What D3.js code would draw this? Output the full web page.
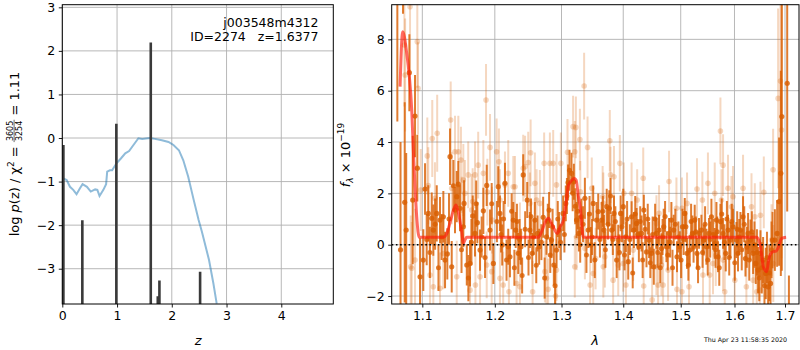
<!DOCTYPE html>
<html>
<head>
<meta charset="utf-8">
<script src="https://cdn.jsdelivr.net/npm/d3@7"></script>
<style>
body { margin: 0; background: #fff; }
svg { font-family: "DejaVu Sans", sans-serif; }
</style>
</head>
<body>
<script>
// ---- left panel: p(z) ----
const zGrid = [0.018,0.08,0.14,0.20,0.26,0.32,0.37,0.45,0.52,0.60,0.64,0.68,0.75,0.80,0.82,0.87,0.91,0.99,1.07,1.15,1.22,1.30,1.39,1.46,1.60,1.69,1.82,1.94,2.03,2.13,2.21,2.30,2.40,2.49,2.55,2.68,2.76,2.82];
const logPz = [-0.93,-0.965,-1.12,-1.19,-1.29,-1.16,-1.06,-1.12,-1.23,-1.18,-1.19,-1.33,-1.19,-1.06,-0.77,-0.74,-0.74,-0.58,-0.47,-0.35,-0.30,-0.16,-0.006,-0.02,0.0,-0.02,-0.05,-0.09,-0.16,-0.28,-0.51,-0.89,-1.42,-1.88,-2.15,-2.80,-3.34,-3.80];
const spikeZ = [0.02,0.366,0.987,1.616,1.744,1.774,2.517];
const spikeLogP = [-0.16,-1.89,0.33,2.19,-3.63,-3.27,-3.07];
const zTicks = [0,1,2,3,4];
const pzTicks = [-3,-2,-1,0,1,2,3];

// ---- right panel: spectrum ----
const lamDark = [1.0675,1.0716,1.0748,1.0770,1.0789,1.0830,1.0874,1.0904,1.0934,1.0970,1.1013,1.1036,1.1079,1.1125,1.1146,1.1192,1.1236,1.1281,1.1304,1.1335,1.1372,1.1395,1.1440,1.1464,1.1486,1.1509,1.1555,1.1565,1.1603,1.1648,1.1686,1.1718,1.1751,1.1789,1.1836,1.1884,1.1931,1.1979,
  1.2050,1.2074,1.2107,1.2147,1.2195,1.2220,1.2269,1.2304,1.2342,1.2382,1.2416,1.2476,1.2516,1.2551,1.2591,1.2632,1.2656,1.2717,1.2768,1.2808,1.2845,1.2881,1.2922,1.2963,1.3025,1.3067,1.3103,1.3157,1.3194,1.3237,1.3274,1.3316,1.3370,1.3423,1.3467,1.3504,1.3560,1.3586,
  1.3642,1.3680,1.3725,1.3768,1.3807,1.3845,1.3890,1.3916,1.3956,1.4000,1.4045,1.4084,1.4141,1.4180,1.4226,1.4265,1.4311,1.4350,1.4396,1.4441,1.4483,1.4523,1.4569,1.4615,1.4657,1.4697,1.4745,1.4791,1.4833,1.4874,1.4933,1.4983,1.5031,1.5073,1.5114,1.5163,1.5212,1.5254,1.5296,1.5333,
  1.5377,1.5420,1.5470,1.5518,1.5563,1.5625,1.5657,1.5687,1.5732,1.5782,1.5833,1.5876,1.5922,1.5972,1.6037,1.6068,1.6115,1.6165,1.6212,1.6263,1.6310,1.6362,1.6414,1.6460,1.6507,1.6559,1.6613,1.6659,1.6707,1.6747,1.6794,1.6840,1.6880,1.6915,1.6935,1.7045,1.7080];
const fluxDark = [9.8,-0.2,10.5,1.65,0.57,6.70,1.74,5.01,2.98,-1.25,-0.60,2.17,1.22,1.03,0.57,1.22,0.96,1.09,-0.60,-0.36,3.43,-0.86,1.35,1.87,2.36,1.42,0.70,1.61,-0.79,-0.73,1.12,0.44,0.86,-0.21,1.32,2.31,0.57,-0.73,
  2.26,1.22,-0.01,2.39,-0.08,-0.47,0.96,0.57,-0.34,-0.08,2.72,1.74,0.57,-0.34,0.96,0.44,-0.08,1.07,0.31,1.35,0.18,-0.79,-0.21,0.57,1.22,1.61,2.42,2.78,2.45,0.96,0.44,1.09,1.81,0.57,-0.01,1.61,0.96,1.29,
  0.96,0.57,1.48,1.42,0.57,1.22,-0.60,0.18,1.22,1.48,0.31,-0.66,1.09,0.57,0.83,-0.08,0.44,1.35,-0.28,0.18,-0.34,-0.86,0.44,0.57,-0.15,0.70,-0.08,0.44,0.96,0.57,-0.47,-0.08,0.70,1.22,-0.34,-0.21,0.44,0.96,-0.34,0.44,
  0.57,0.18,-0.08,0.44,1.09,0.05,0.96,-0.47,0.90,0.44,-0.34,0.57,0.18,0.70,0.18,-0.34,0.57,1.09,-0.54,0.44,0.18,-0.34,-0.73,-0.99,-0.34,-0.60,-1.12,-1.64,-1.51,0.18,0.18,0.44,1.68,2.78,4.99,6.29,-3.5];
const errDark = [5.0,4.2,1.5,3.9,3.0,1.5,2.5,1.6,1.3,1.5,1.2,1.0,1.1,1.0,1.0,1.1,0.9,1.0,1.1,1.0,1.1,1.0,0.9,1.0,0.9,0.9,0.8,0.9,0.8,0.9,0.8,0.9,0.8,0.8,0.9,0.8,0.8,0.8,
  0.8,0.7,0.8,0.8,0.7,0.8,0.7,0.7,0.8,0.7,0.8,0.7,0.7,0.8,0.7,0.7,0.7,0.8,0.7,0.7,0.7,0.8,0.7,0.7,0.7,0.7,0.7,0.8,0.7,0.7,0.7,0.7,0.8,0.7,0.7,0.7,0.7,0.7,
  0.7,0.6,0.7,0.7,0.6,0.7,0.7,0.6,0.7,0.7,0.6,0.7,0.6,0.7,0.6,0.6,0.7,0.6,0.6,0.7,0.6,0.7,0.6,0.6,0.6,0.7,0.6,0.6,0.7,0.6,0.6,0.6,0.7,0.6,0.6,0.6,0.7,0.6,0.6,0.6,
  0.6,0.6,0.7,0.6,0.7,0.6,0.7,0.6,0.7,0.6,0.7,0.6,0.7,0.7,0.7,0.7,0.7,0.8,0.7,0.8,0.8,0.8,0.8,0.9,0.9,0.9,1.0,1.0,1.1,1.1,1.2,1.3,2.5,4.0,6.0,5.0,2.3];

// more binned points, interleaved with the ones above
const lamDarkB = [1.1058,1.1100,1.1170,1.1215,1.1258,1.1358,1.1418,1.1530,1.1625,1.1668,1.1735,1.1812,1.1860,1.1955,
  1.2030,1.2090,1.2127,1.2170,1.2245,1.2285,1.2323,1.2362,1.2400,1.2445,1.2495,1.2533,1.2571,1.2612,1.2690,1.2740,1.2788,1.2826,1.2862,1.2900,
  1.2942,1.2985,1.3045,1.3085,1.3125,1.3175,1.3215,1.3255,1.3295,1.3340,1.3395,1.3445,1.3485,1.3530,1.3613,
  1.3661,1.3703,1.3746,1.3788,1.3826,1.3868,1.3936,1.3978,1.4022,1.4065,1.4112,1.4160,1.4203,1.4245,1.4288,1.4330,1.4373,1.4418,1.4462,1.4503,
  1.4546,1.4592,1.4636,1.4677,1.4721,1.4768,1.4812,1.4853,1.4903,1.4958,1.5007,1.5052,1.5094,1.5138,1.5188,1.5233,1.5275,1.5315,
  1.5398,1.5445,1.5494,1.5540,1.5594,1.5641,1.5672,1.5710,1.5757,1.5808,1.5855,1.5899,1.5947,1.6005,1.6052,1.6091,1.6140,1.6188,1.6238,1.6286,
  1.6336,1.6388,1.6437,1.6483,1.6533,1.6586,1.6636,1.6683,1.6727];
const fluxDarkB = [0.2,-0.3,0.8,-0.9,0.3,1.0,2.3,-0.2,-1.3,0.1,1.6,0.3,-0.5,1.6,
  0.9,0.4,1.0,-0.6,1.3,-0.9,0.9,0.2,-1.2,0.6,-0.5,1.1,0.3,-0.8,0.1,-1.3,0.9,-0.4,0.7,-1.6,
  1.0,0.1,0.4,1.9,2.9,2.0,1.5,1.3,0.0,0.8,-0.4,1.2,0.3,-0.6,0.2,
  1.3,-0.2,0.8,1.9,0.2,0.9,-0.3,0.7,-0.4,1.0,0.2,-1.1,1.2,0.4,0.9,-0.6,0.6,1.0,-0.7,0.4,
  1.0,-0.3,-0.9,0.3,1.1,-0.4,0.1,-0.9,0.8,0.3,-0.6,0.2,0.7,-0.8,0.9,-0.1,0.5,-0.9,
  -0.3,0.8,-0.6,0.2,0.4,-0.2,0.5,-0.9,1.2,0.1,1.0,-0.5,0.9,-0.7,0.6,0.3,-0.2,0.8,-0.1,-0.6,
  0.5,0.0,-0.3,-1.3,-0.9,-1.6,-0.5,-1.1,-0.2];
const errDarkB = [1.0,1.0,1.0,0.9,0.9,1.0,1.0,0.9,0.9,0.9,0.9,0.8,0.8,0.8,
  0.8,0.7,0.7,0.8,0.7,0.7,0.7,0.8,0.7,0.7,0.7,0.7,0.7,0.7,0.7,0.8,0.7,0.7,0.7,0.8,
  0.7,0.7,0.7,0.7,0.8,0.7,0.7,0.7,0.7,0.7,0.7,0.7,0.7,0.7,0.7,
  0.6,0.7,0.6,0.7,0.6,0.6,0.7,0.6,0.6,0.7,0.6,0.6,0.7,0.6,0.6,0.7,0.6,0.6,0.6,0.7,
  0.6,0.6,0.6,0.7,0.6,0.6,0.6,0.7,0.6,0.6,0.7,0.6,0.6,0.6,0.7,0.6,0.6,0.6,
  0.6,0.7,0.6,0.7,0.6,0.7,0.6,0.7,0.6,0.7,0.7,0.7,0.7,0.7,0.7,0.7,0.8,0.7,0.8,0.8,
  0.8,0.9,0.9,0.9,1.0,1.0,1.0,1.1,1.1];

const lamLight = [1.0765,1.0775,1.0839,1.0848,1.0904,1.0934,1.0943,1.0979,1.1066,1.1079,
  1.1102,1.1132,1.1146,1.1168,1.1198,1.1236,1.1281,1.1381,1.1395,1.1440,
  1.1464,1.1486,1.1522,1.1555,1.1577,1.1623,1.1670,1.1718,1.1724,1.1763,
  1.1789,1.1836,1.1874,1.1893,1.1931,1.1955,1.2026,1.2059,1.2121,1.2195,
  1.2205,1.2269,1.2318,1.2367,1.2416,1.2491,1.2527,1.2557,1.2591,1.2667,
  1.2732,1.2768,1.2793,1.2820,1.2871,1.2907,1.2990,1.3094,1.3182,1.3209,
  1.3226,1.3237,1.3290,1.3358,1.3370,1.3413,1.3504,1.3543,1.3658,1.3695,
  1.3776,1.3788,1.3831,1.3845,1.3916,1.3943,1.4010,1.4045,1.4141,1.4168,
  1.4236,1.4340,1.4348,1.4494,1.4598,1.4615,1.4657,1.4686,1.4774,1.4791,
  1.4923,1.4933,1.5114,1.5150,1.5296,1.5395,1.5406,1.5498,1.5592,1.5625,
  1.5644,1.5732,1.5782,1.5814,1.5876,1.5942,1.6006,1.6165,1.6362,1.6395,
  1.6494,1.6507,1.6573,1.6727,1.6759,1.6860,1.6908,1.6929,
  1.1532,1.1685,1.1960,1.2074,1.2147,1.2294,1.2444,1.2516,1.2617,1.2922,1.3297,1.3481,1.3669,1.4569,1.5022,1.5752,1.5972,1.6330,
  1.0861,1.1648,1.1884,1.2074,1.2367,1.2743,1.2922,1.3209,1.3454,1.3669,1.4000,1.4569,1.5022,1.5531,1.5782,1.6230,1.6433,1.6763];
const fluxLight = [7.78,6.61,9.27,-0.86,-0.60,7.91,6.09,2.13,3.46,2.30,
  -1.18,4.14,-1.64,1.81,4.34,-1.70,-0.34,4.86,2.20,3.62,
  -1.25,3.62,3.30,2.52,2.00,2.72,1.35,2.72,-1.57,3.10,
  -1.25,2.78,5.64,2.05,3.79,-1.05,3.62,3.23,-1.57,2.78,
  -1.83,2.26,-1.51,0.44,2.98,3.20,3.58,-1.83,2.39,1.61,
  3.17,-1.31,-1.74,3.17,3.17,-2.0,3.17,3.60,4.60,3.62,
  4.57,0.31,4.10,6.18,-0.15,3.79,-1.12,-0.54,1.87,-0.47,
  4.05,2.72,-1.38,2.65,-0.79,3.17,2.00,-1.57,2.00,-0.21,
  1.74,2.59,-1.61,-2.15,-1.57,1.22,-0.79,-1.57,-0.99,2.46,
  1.42,-1.74,1.61,-1.64,2.17,1.74,-1.18,2.39,-0.73,2.00,
  -0.41,4.43,3.10,-1.83,2.20,1.48,-1.38,2.20,-1.38,1.09,
  -1.77,1.15,2.04,0.18,2.92,5.70,6.38,4.47,
  1.35,1.68,0.96,1.74,2.33,2.26,3.04,1.61,1.74,2.33,2.06,2.20,1.61,0.83,1.42,1.74,1.87,1.48,
  -0.92,-1.77,-0.79,-1.31,-1.64,-1.05,-0.99,-0.86,-1.57,-0.86,-0.73,-0.86,-1.83,-1.18,-0.60,-1.64,-1.83,-0.73];
const errLight = [2.4,2.2,2.5,2.0,2.0,1.8,1.8,1.6,1.5,1.5,
  1.4,1.5,1.4,1.4,1.5,1.4,1.4,1.5,1.4,1.4,
  1.4,1.4,1.3,1.4,1.3,1.3,1.4,1.3,1.3,1.3,
  1.3,1.3,1.4,1.3,1.3,1.3,1.3,1.3,1.3,1.3,
  1.3,1.2,1.3,1.2,1.3,1.2,1.3,1.2,1.2,1.3,
  1.2,1.3,1.2,1.2,1.3,1.2,1.2,1.3,1.2,1.2,
  1.2,1.3,1.2,1.3,1.2,1.2,1.2,1.2,1.2,1.2,
  1.2,1.1,1.2,1.2,1.2,1.1,1.2,1.1,1.2,1.2,
  1.2,1.2,1.1,1.2,1.2,1.1,1.2,1.1,1.2,1.2,
  1.2,1.1,1.2,1.2,1.2,1.1,1.2,1.2,1.2,1.2,
  1.2,1.3,1.2,1.2,1.3,1.2,1.3,1.3,1.3,1.3,
  1.4,1.3,1.4,1.4,1.6,3.5,4.0,5.0,
  1.3,1.3,1.3,1.2,1.3,1.2,1.2,1.2,1.2,1.2,1.2,1.2,1.2,1.1,1.2,1.2,1.2,1.3,
  1.8,1.3,1.3,1.2,1.2,1.2,1.2,1.2,1.2,1.2,1.1,1.1,1.2,1.2,1.2,1.3,1.4,1.5];

const modelLam = [1.0710,1.0744,1.0796,1.0830,1.0861,1.0882,1.0904,1.0926,1.0960,1.0985,
  1.1281,1.1330,1.1380,1.1420,1.1454,1.1490,1.1532,1.1555,1.1580,1.1603,
  1.2644,1.2700,1.2760,1.2796,1.2860,1.2935,1.2980,1.3029,1.3070,1.3107,
  1.3164,1.3200,1.3230,1.3265,1.3294,1.3345,1.3380,
  1.6433,1.6500,1.6564,1.6600,1.6631,1.6670,1.6711,1.6763,1.6820,1.6864,1.6933,1.7023];
const modelFlux = [6.16,8.30,7.46,6.55,5.25,3.69,2.26,1.09,0.29,0.29,
  0.29,0.45,0.95,1.35,1.55,1.20,0.50,0.05,0.20,0.29,
  0.29,0.55,0.95,1.03,0.75,0.44,0.70,0.96,1.60,2.30,
  2.52,2.58,2.52,1.90,1.48,0.29,0.29,
  0.29,0.0,-0.86,-1.00,-1.05,-0.60,-0.35,-0.27,-0.25,-0.10,0.25,0.29];
const lamTicks = [1.1,1.2,1.3,1.4,1.5,1.6,1.7];
const fluxTicks = [-2,0,2,4,6,8];

const width = 800;
const height = 350;
const svg = d3.select('body').append('svg')
    .attr('width', width)
    .attr('height', height);

const L = { x0: 62.3, x1: 333.3, y0: 4.7, y1: 304 };
const R = { x0: 391.7, x1: 799, y0: 4.7, y1: 304 };

const xz = d3.scaleLinear().domain([0, 4.95]).range([L.x0, L.x1]);
const yz = d3.scaleLinear().domain([-3.81, 3.06]).range([L.y1, L.y0]);
const xl = d3.scaleLog().domain([1.0603, 1.7288]).range([R.x0, R.x1]);
const yf = d3.scaleLinear().domain([-2.31, 9.35]).range([R.y1, R.y0]);

const defs = svg.append('defs');
[['clipL', L], ['clipR', R]].forEach(([id, b]) => {
    defs.append('clipPath').attr('id', id).append('rect')
        .attr('x', b.x0).attr('y', b.y0)
        .attr('width', b.x1 - b.x0).attr('height', b.y1 - b.y0);
});

function drawGrid(b, xs, xt, ys, yt) {
    const g = svg.append('g').attr('stroke', '#b0b0b0').attr('stroke-width', 0.9);
    xt.forEach(t => g.append('line')
        .attr('x1', xs(t)).attr('x2', xs(t)).attr('y1', b.y0).attr('y2', b.y1));
    yt.forEach(t => g.append('line')
        .attr('x1', b.x0).attr('x2', b.x1).attr('y1', ys(t)).attr('y2', ys(t)));
}

function drawAxes(b, xs, xt, xfmt, ys, yt, yfmt) {
    const gx = svg.append('g').attr('transform', `translate(0,${b.y1})`)
        .call(d3.axisBottom(xs).tickValues(xt).tickFormat(xfmt).tickSize(3.5).tickPadding(3.5));
    const gy = svg.append('g').attr('transform', `translate(${b.x0},0)`)
        .call(d3.axisLeft(ys).tickValues(yt).tickFormat(yfmt).tickSize(3.5).tickPadding(3.5));
    [gx, gy].forEach(g => {
        g.select('.domain').remove();
        g.selectAll('text').attr('font-size', 12.5).attr('fill', '#000')
            .attr('font-family', '"DejaVu Sans", sans-serif');
        g.selectAll('line').attr('stroke', '#000').attr('stroke-width', 0.9);
    });
    svg.append('rect')
        .attr('x', b.x0).attr('y', b.y0)
        .attr('width', b.x1 - b.x0).attr('height', b.y1 - b.y0)
        .attr('fill', 'none').attr('stroke', '#000').attr('stroke-width', 1);
}

// ---------- left panel ----------
drawGrid(L, xz, zTicks, yz, pzTicks);
const gL = svg.append('g').attr('clip-path', 'url(#clipL)');

gL.append('path')
    .datum(zGrid.map((z, i) => [z, logPz[i]]))
    .attr('fill', 'none')
    .attr('stroke', '#1f77b4')
    .attr('stroke-opacity', 0.5)
    .attr('stroke-width', 2)
    .attr('d', d3.line().x(d => xz(d[0])).y(d => yz(d[1])));

spikeZ.forEach((z, i) => {
    gL.append('line')
        .attr('x1', xz(z)).attr('x2', xz(z))
        .attr('y1', yz(-3.81)).attr('y2', yz(spikeLogP[i]))
        .attr('stroke', '#3a3a3a')
        .attr('stroke-width', 2.6);
});

drawAxes(L, xz, zTicks, d3.format('d'), yz, pzTicks, d3.format('d'));

svg.append('text')
    .attr('x', 318.5).attr('y', 26.5)
    .attr('text-anchor', 'end').attr('font-size', 12.5)
    .text('j003548m4312');
svg.append('text')
    .attr('x', 318.5).attr('y', 40.5)
    .attr('text-anchor', 'end').attr('font-size', 12.5)
    .style('white-space', 'pre')
    .text('ID=2274   z=1.6377');

svg.append('text')
    .attr('x', xz(2.48)).attr('y', 345)
    .attr('text-anchor', 'middle').attr('font-size', 13)
    .attr('font-style', 'italic')
    .text('z');

// rotated y label with a stacked fraction
const yl = svg.append('g').attr('transform', 'translate(18.5,154) rotate(-90)');
const part1 = yl.append('text').attr('font-size', 13).attr('y', 0);
part1.append('tspan').text('log ');
part1.append('tspan').attr('font-style', 'italic').text('p');
part1.append('tspan').text('(z) / χ');
part1.append('tspan').attr('font-size', 9).attr('dy', -5).text('2');
part1.append('tspan').attr('dy', 5).style('white-space', 'pre').text(' = ');
const w1 = part1.node().getComputedTextLength();
const num = yl.append('text').attr('font-size', 8).attr('y', -6).attr('text-anchor', 'middle').text('3605');
const den = yl.append('text').attr('font-size', 8).attr('y', 3.2).attr('text-anchor', 'middle').text('3254');
const wf = Math.max(num.node().getComputedTextLength(), den.node().getComputedTextLength()) + 2;
const bar = yl.append('line').attr('y1', -4.4).attr('y2', -4.4).attr('stroke', '#000').attr('stroke-width', 0.6);
const part3 = yl.append('text').attr('font-size', 13).style('white-space', 'pre').text(' = 1.11');
const w3 = part3.node().getComputedTextLength();
const x0 = -(w1 + wf + w3) / 2;
part1.attr('x', x0);
num.attr('x', x0 + w1 + wf / 2);
den.attr('x', x0 + w1 + wf / 2);
bar.attr('x1', x0 + w1).attr('x2', x0 + w1 + wf);
part3.attr('x', x0 + w1 + wf);

// ---------- right panel ----------
drawGrid(R, xl, lamTicks, yf, fluxTicks);
const gR = svg.append('g').attr('clip-path', 'url(#clipR)');

function drawSeries(lam, flux, err, opacity, r) {
    const g = gR.append('g');
    lam.forEach((l, i) => {
        g.append('line')
            .attr('x1', xl(l)).attr('x2', xl(l))
            .attr('y1', yf(flux[i] - err[i])).attr('y2', yf(flux[i] + err[i]))
            .attr('stroke', '#d95f02')
            .attr('stroke-opacity', opacity)
            .attr('stroke-width', 2);
    });
    lam.forEach((l, i) => {
        g.append('circle')
            .attr('cx', xl(l)).attr('cy', yf(flux[i]))
            .attr('r', r)
            .attr('fill', '#d95f02')
            .attr('fill-opacity', opacity);
    });
}

drawSeries(lamLight, fluxLight, errLight, 0.25, 2.8);
drawSeries(lamDarkB, fluxDarkB, errDarkB, 0.8, 2.5);
drawSeries(lamDark, fluxDark, errDark, 0.82, 2.6);

gR.append('path')
    .datum(modelLam.map((l, i) => [l, modelFlux[i]]))
    .attr('fill', 'none')
    .attr('stroke', '#ff1a0a')
    .attr('stroke-opacity', 0.65)
    .attr('stroke-width', 3)
    .attr('stroke-linejoin', 'round')
    .attr('d', d3.line().x(d => xl(d[0])).y(d => yf(d[1])).curve(d3.curveMonotoneX));

gR.append('line')
    .attr('x1', R.x0).attr('x2', R.x1)
    .attr('y1', yf(0)).attr('y2', yf(0))
    .attr('stroke', '#000')
    .attr('stroke-width', 1.6)
    .attr('stroke-dasharray', '1.6,2.6');

drawAxes(R, xl, lamTicks, d3.format('.1f'), yf, fluxTicks, d3.format('d'));

svg.append('text')
    .attr('x', 595).attr('y', 345)
    .attr('text-anchor', 'middle').attr('font-size', 13)
    .attr('font-style', 'italic')
    .text('λ');

const yr = svg.append('text')
    .attr('transform', 'translate(349.5,155) rotate(-90)')
    .attr('text-anchor', 'middle').attr('font-size', 13);
yr.append('tspan').attr('font-style', 'italic').text('f');
yr.append('tspan').attr('font-size', 9).attr('dy', 3).attr('font-style', 'italic').text('λ');
yr.append('tspan').attr('dy', -3).style('white-space', 'pre').text(' × 10');
yr.append('tspan').attr('font-size', 9).attr('dy', -5.5).text('−19');

svg.append('text')
    .attr('x', 787).attr('y', 341.5)
    .attr('text-anchor', 'end').attr('font-size', 6.3)
    .text('Thu Apr 23 11:58:35 2020');
</script>
</body>
</html>
